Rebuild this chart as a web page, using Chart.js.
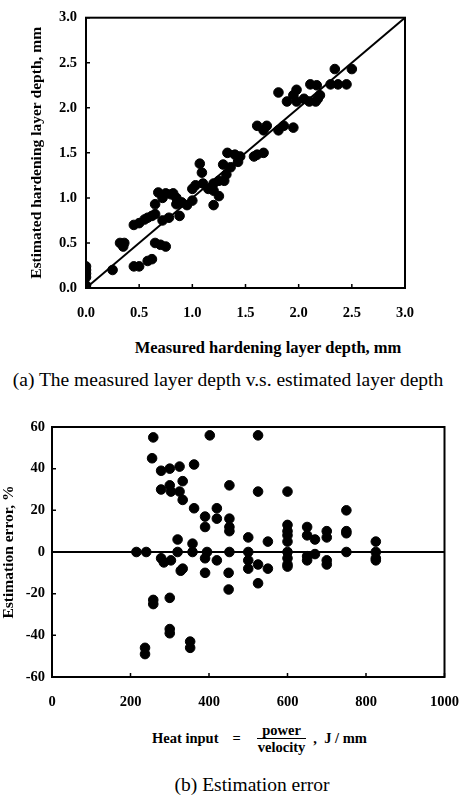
<!DOCTYPE html>
<html lang="en">
<head>
    <meta charset="UTF-8">
    <title>Hardening layer depth estimation</title>
    <script src="https://cdn.jsdelivr.net/npm/chart.js"></script>
    <style>
        body { margin: 0; background: #fff; }
        #page { position: relative; width: 476px; height: 799px; overflow: hidden; font-family: "Liberation Serif", "DejaVu Serif", serif; color: #000; }
        .box { position: absolute; left: 0; }
        .txt { position: absolute; white-space: nowrap; transform: translate(-50%, -50%); }
        .axt { font-weight: bold; font-size: 16.5px; }
        .cap { font-size: 19.5px; }
        #heat { position: absolute; left: 152px; top: 722px; font-weight: bold; font-size: 14.5px; display: flex; align-items: center; white-space: nowrap; }
        #heat .eq { margin-left: 14px; }
        #heat .frac { display: inline-flex; flex-direction: column; align-items: center; margin: 0 3px 0 12px; }
        #heat .frac span { padding: 0 5px; line-height: 16px; }
        #heat .frac .num { border-bottom: 1.5px solid #000; }
    </style>
</head>
<body>
<div id="page">
    <div class="box" style="top:0"><canvas id="depthChart" width="476" height="330"></canvas></div>
    <div class="txt axt" style="left:268px; top:348px">Measured hardening layer depth, mm</div>
    <div class="txt cap" style="left:228px; top:380px">(a) The measured layer depth v.s. estimated layer depth</div>

    <div class="box" style="top:400px"><canvas id="errorChart" width="476" height="320"></canvas></div>
    <div id="heat">Heat input<span class="eq">=</span>
        <span class="frac"><span class="num">power</span><span>velocity</span></span>, &nbsp;J / mm</div>
    <div class="txt cap" style="left:252px; top:785px">(b) Estimation error</div>
</div>

<script>
    // (a) measured vs estimated hardening layer depth, mm
    const measured = [
        0, 0, 0, 0, 0, 0, 0.25, 0.32, 0.35, 0.36, 0.45, 0.5, 0.58, 0.62,
        0.65, 0.7, 0.75, 0.45, 0.5, 0.55, 0.58, 0.62, 0.65, 0.65, 0.68, 0.72,
        0.75, 0.8, 0.85, 0.82, 0.72, 0.78, 0.88, 0.85, 0.9, 0.95, 1.0, 1.0,
        1.03, 1.07, 1.09, 1.1, 1.15, 1.2, 1.2, 1.2, 1.25, 1.25, 1.3, 1.32,
        1.29, 1.36, 1.33, 1.4, 1.45, 1.43, 1.58, 1.61, 1.67, 1.61, 1.7, 1.67,
        1.81, 1.86, 1.95, 1.81, 1.89, 1.95, 1.98, 1.98, 2.05, 2.1, 2.16, 2.18,
        2.11, 2.17, 2.2, 2.3, 2.37, 2.45, 2.34, 2.5
    ];
    const estimated = [
        0, 0.03, 0.12, 0.16, 0.2, 0.24, 0.2, 0.5, 0.46, 0.5, 0.24, 0.24, 0.3, 0.32,
        0.5, 0.48, 0.46, 0.7, 0.72, 0.76, 0.78, 0.8, 0.82, 0.93, 1.06, 1.0,
        1.05, 1.04, 1.0, 1.05, 0.75, 0.78, 0.8, 0.93, 0.95, 0.92, 0.97, 1.1,
        1.14, 1.38, 1.28, 1.16, 1.1, 1.16, 1.08, 0.92, 1.02, 1.19, 1.19, 1.26,
        1.37, 1.34, 1.5, 1.48, 1.46, 1.4, 1.46, 1.48, 1.5, 1.8, 1.8, 1.75,
        1.75, 1.8, 1.78, 2.17, 2.07, 2.14, 2.2, 2.07, 2.1, 2.07, 2.07, 2.1,
        2.26, 2.25, 2.14, 2.26, 2.26, 2.26, 2.43, 2.43
    ];
    const depthTicks = [0, 0.5, 1.0, 1.5, 2.0, 2.5, 3.0];

    // (b) estimation error vs heat input, J/mm
    const heatInput = [
        215, 240, 237, 237, 258, 255, 258, 258,
        278, 300, 325, 278, 300, 303, 325, 333, 333, 278, 285, 303, 300, 300, 300, 320, 320, 328, 333,
        352, 352, 358, 358, 362, 362,
        390, 390, 390, 390, 395, 402, 420, 420, 420, 452, 452, 452, 452, 452, 450, 450,
        500, 500, 500, 500, 525, 525, 525, 525, 550, 550,
        600, 600, 600, 600, 600, 600, 600, 600, 600,
        650, 650, 650, 650, 670, 670, 700, 700, 700, 700,
        750, 750, 750, 750, 825, 825, 825, 825
    ];
    const errorPct = [
        0, 0, -46, -49, 55, 45, -23, -25,
        39, 40, 41, 30, 32, 29, 29, 34, 25, -3, -5, -4, -22, -37, -39, 6, 0, -9, -8,
        -43, -46, 4, 0, 42, 21,
        17, 12, -3, -10, 0, 56, 21, 16, -4, 32, 16, 12, 10, 0, -10, -18,
        7, 0, -4, -8, 56, 29, -6, -15, 5, -8,
        29, 13, 10, 8, 5, 0, -3, -6, -7,
        12, 8, -2, -4, 6, -1, 10, 7, -4, -6,
        20, 10, 9, 0, 5, 0, -3, -4
    ];
    const heatTicks = [0, 200, 400, 600, 800, 1000];
    const errorTicks = [-60, -40, -20, 0, 20, 40, 60];

    const serif = '"Liberation Serif", "DejaVu Serif", serif';

    // box around the plot area with short inward tick marks
    const framePlugin = {
        id: 'frame',
        afterDatasetsDraw(chart) {
            const {ctx, chartArea: a, scales} = chart;
            ctx.save();
            ctx.strokeStyle = '#000';
            ctx.lineWidth = 2;
            ctx.strokeRect(a.left, a.top, a.right - a.left, a.bottom - a.top);
            ctx.lineWidth = 1.5;
            ctx.beginPath();
            scales.x.ticks.forEach(t => {
                const px = scales.x.getPixelForValue(t.value);
                ctx.moveTo(px, a.bottom);
                ctx.lineTo(px, a.bottom - 4);
            });
            scales.y.ticks.forEach(t => {
                const py = scales.y.getPixelForValue(t.value);
                ctx.moveTo(a.left, py);
                ctx.lineTo(a.left + 4, py);
            });
            ctx.stroke();
            ctx.restore();
        }
    };

    function toPoints(xs, ys) {
        return xs.map((x, i) => ({x: x, y: ys[i]}));
    }

    function axis(min, max, tickList, digits, pad, fitSize, horizontal, title) {
        const opts = {
            type: 'linear',
            min: min,
            max: max,
            afterBuildTicks: s => { s.ticks = tickList.map(v => ({value: v})); },
            afterFit: s => { if (horizontal) s.height = fitSize; else s.width = fitSize; },
            grid: {display: false, drawTicks: false},
            border: {display: false},
            ticks: {
                color: '#000',
                padding: pad,
                autoSkip: false,
                maxRotation: 0,
                font: {family: serif, size: 14.5, weight: 'bold'},
                callback: v => v.toFixed(digits)
            }
        };
        if (title) {
            opts.title = {
                display: true,
                text: title,
                color: '#000',
                padding: 0,
                font: {family: serif, size: 15.5, weight: 'bold', lineHeight: 1.2}
            };
        }
        return opts;
    }

    new Chart(document.getElementById('depthChart'), {
        type: 'scatter',
        data: {
            datasets: [
                {
                    label: 'data',
                    data: toPoints(measured, estimated),
                    backgroundColor: '#000',
                    borderColor: '#000',
                    pointRadius: 4.8,
                    pointHoverRadius: 4.8
                },
                {
                    type: 'line',
                    label: 'y = x',
                    data: [{x: 0, y: 0}, {x: 3, y: 3}],
                    borderColor: '#000',
                    borderWidth: 2,
                    pointRadius: 0,
                    fill: false
                }
            ]
        },
        options: {
            responsive: false,
            animation: false,
            layout: {padding: {left: 28, right: 71, top: 8, bottom: 0}},
            plugins: {legend: {display: false}, tooltip: {enabled: false}},
            scales: {
                x: axis(0, 3, depthTicks, 1, 17, 42, true),
                y: axis(0, 3, depthTicks, 1, 9, 58, false, 'Estimated hardening layer depth, mm')
            }
        },
        plugins: [framePlugin]
    });

    new Chart(document.getElementById('errorChart'), {
        type: 'scatter',
        data: {
            datasets: [
                {
                    label: 'error',
                    data: toPoints(heatInput, errorPct),
                    backgroundColor: '#000',
                    borderColor: '#000',
                    pointRadius: 4.8,
                    pointHoverRadius: 4.8
                },
                {
                    type: 'line',
                    label: 'zero',
                    data: [{x: 0, y: 0}, {x: 1000, y: 0}],
                    borderColor: '#000',
                    borderWidth: 2,
                    pointRadius: 0,
                    fill: false
                }
            ]
        },
        options: {
            responsive: false,
            animation: false,
            layout: {padding: {left: 0, right: 24, top: 27, bottom: 0}},
            plugins: {legend: {display: false}, tooltip: {enabled: false}},
            scales: {
                x: axis(0, 1000, heatTicks, 0, 17, 43, true),
                y: axis(-60, 60, errorTicks, 0, 7, 52, false, 'Estimation error, %')
            }
        },
        plugins: [framePlugin]
    });
</script>
</body>
</html>
